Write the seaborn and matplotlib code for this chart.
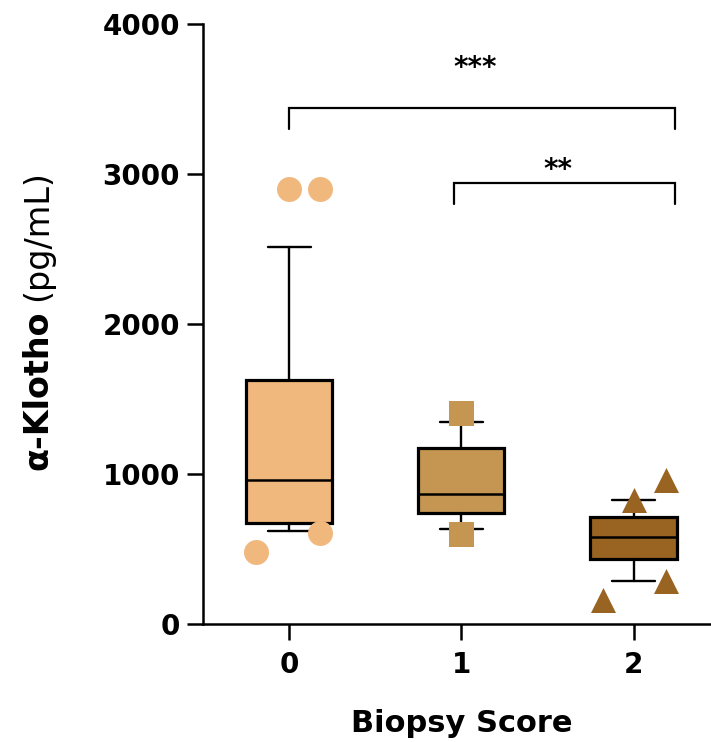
import matplotlib
matplotlib.use("Agg")
import matplotlib.pyplot as plt
import seaborn as sns
import pandas as pd

# ---------------- data ----------------
categories = ["0", "1", "2"]
whisker_low = [620, 633, 287]
q1 = [673, 740, 433]
median = [960, 867, 580]
q3 = [1627, 1173, 713]
whisker_high = [2513, 1347, 827]

outlier_group = ["0", "0", "0", "0", "1", "1", "2", "2", "2", "2"]
outlier_values = [2900, 2900, 607, 480, 1407, 600, 830, 960, 290, 160]

y_ticks = [0, 1000, 2000, 3000, 4000]

# ---------------- style / layout ----------------
colors = ["#F1B87E", "#C59552", "#996321"]
markers = ["o", "s", "^"]
# horizontal spreading of outlier symbols (category units), GraphPad-like
spread = [0.0, 0.18, 0.18, -0.19, 0.0, 0.0, 0.0, 0.19, 0.19, -0.18]
# significance brackets: (left, right, height, label)
brackets = [(0.0, 2.24, 3440, "***"), (0.96, 2.24, 2940, "**")]

sns.set_theme(style="ticks")
plt.rcParams["font.family"] = ["DejaVu Sans"]

fig = plt.figure(figsize=(7.11, 7.42), dpi=100)
ax = fig.add_axes([203 / 711, 1 - 624 / 742, (711 - 203) / 711, 600 / 742])

stats = []
for c, lo, a, m, b, hi in zip(categories, whisker_low, q1, median, q3, whisker_high):
    stats.append(dict(label=c, whislo=lo, q1=a, med=m, q3=b, whishi=hi, fliers=[]))

bp = ax.bxp(stats, positions=[0, 1, 2], widths=0.5, patch_artist=True,
            showfliers=False, manage_ticks=False,
            boxprops=dict(linewidth=2.3, edgecolor="black"),
            medianprops=dict(color="black", linewidth=1.8),
            whiskerprops=dict(color="black", linewidth=1.7),
            capprops=dict(color="black", linewidth=1.7))
for patch, col in zip(bp["boxes"], colors):
    patch.set_facecolor(col)

df = pd.DataFrame({"group": outlier_group, "value": outlier_values})
df["pos"] = [categories.index(g) + s for g, s in zip(outlier_group, spread)]
for cat, col, mk in zip(categories, colors, markers):
    sub = df[df["group"] == cat]
    sns.scatterplot(data=sub, x="pos", y="value", color=col, marker=mk, s=18 ** 2,
                    linewidth=0, ax=ax, zorder=5, legend=False)

ax.set_xlim(-0.5, 2.45)
ax.set_ylim(0, 4000)
ax.set_yticks(y_ticks)
ax.set_xticks([0, 1, 2])
ax.set_xticklabels(categories)

for side in ["top", "right"]:
    ax.spines[side].set_visible(False)
for side in ["left", "bottom"]:
    ax.spines[side].set_linewidth(1.8)
    ax.spines[side].set_color("black")

ax.tick_params(axis="both", length=11.5, width=1.8, colors="black", labelsize=20)
ax.tick_params(axis="y", pad=5)
ax.tick_params(axis="x", pad=8)
for lbl in ax.get_xticklabels() + ax.get_yticklabels():
    lbl.set_fontweight("bold")

ax.set_xlabel("Biopsy Score", fontsize=22, fontweight="bold", color="black")
ax.xaxis.set_label_coords(0.51, -0.142)
ax.set_ylabel("")

# brackets
for left, right, h, lab in brackets:
    drop = 140
    ax.plot([left, left, right, right], [h - drop, h, h, h - drop], color="black",
            linewidth=1.6, solid_joinstyle="miter", clip_on=False)

ax.text(1.08, 3653, "***", ha="center", va="baseline", fontsize=20, fontweight="bold", color="black")
ax.text(1.56, 2973, "**", ha="center", va="baseline", fontsize=20, fontweight="bold", color="black")

# y label: bold part + regular part
ylab_x = (47 - 203) / 508
t1 = ax.text(ylab_x, (624 - 470) / 600, "α-Klotho", transform=ax.transAxes, rotation=90,
             rotation_mode="anchor", ha="left", va="baseline", fontsize=24,
             fontweight="bold", color="black")
fig.canvas.draw()
bb = t1.get_window_extent()
ytop = ax.transAxes.inverted().transform((bb.x1, bb.y1))[1]
ax.text(ylab_x, ytop + 0.016, "(pg/mL)", transform=ax.transAxes, rotation=90,
        rotation_mode="anchor", ha="left", va="baseline", fontsize=24,
        fontweight="normal", color="black")

fig.savefig("out.png", dpi=100)
